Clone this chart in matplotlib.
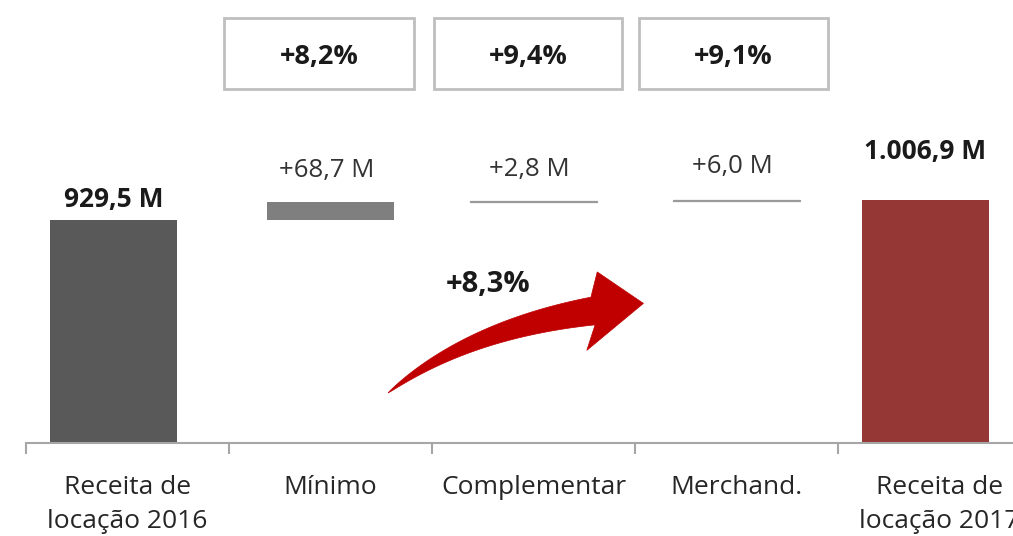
import numpy as np
import matplotlib
matplotlib.use("Agg")
import matplotlib.pyplot as plt
import matplotlib.patches as patches

plt.rcParams['font.family'] = ['Open Sans', 'DejaVu Sans']

# data
categories = ["Receita de\nlocação 2016", "Mínimo", "Complementar", "Merchand.", "Receita de\nlocação 2017"]
start_value = 929.5
increments = [68.7, 2.8, 6.0]
end_value = 1006.9
value_labels = ["929,5 M", "+68,7 M", "+2,8 M", "+6,0 M", "1.006,9 M"]
box_labels = ["+8,2%", "+9,4%", "+9,1%"]
total_growth = "+8,3%"

W, H = 1013, 536
fig = plt.figure(figsize=(W / 100, H / 100), dpi=100)

# axis line sits at y=443 px, first tick at x=26 px
ax = fig.add_axes([26 / W, 1 - 443 / H, 1 - 26 / W, 443 / H])
ax.set_xlim(-0.5, (W - 26) / 203 - 0.5)
ymin = 66
ax.set_ylim(ymin, ymin + 443 / (20 / 77.4))

# waterfall bottoms / heights
bottoms = [ymin]
heights = [start_value - ymin]
running = start_value
for inc in increments:
    bottoms.append(running)
    heights.append(inc)
    running += inc
bottoms.append(ymin)
heights.append(end_value - ymin)

colors = ["#595959", "#7f7f7f", "#9a9a9a", "#9a9a9a", "#953735"]
edge_w = [0, 0, 0.9, 0.9, 0]
xpos = [-0.07, 1, 2, 3, 3.93]
bw = 127 / 203

ax.bar(xpos, heights, bottom=bottoms, width=bw, color=colors,
       edgecolor=colors, linewidth=edge_w)

# value labels (offsets in points above bar top)
offsets = [5, 14, 14, 15, 25]
for i, (x, b, h, lab) in enumerate(zip(xpos, bottoms, heights, value_labels)):
    top = b + h
    if i in (0, 4):
        ax.annotate(lab, (x, top), xytext=(0, offsets[i]), textcoords="offset points",
                    ha="center", va="bottom", fontsize=19, fontweight="bold", color="#1a1a1a")
    else:
        ax.annotate(lab, (x - 0.02, top), xytext=(0, offsets[i]), textcoords="offset points",
                    ha="center", va="bottom", fontsize=18.5, color="#333333")

# axis styling
for s in ["top", "right", "left"]:
    ax.spines[s].set_visible(False)
ax.spines["bottom"].set_color("#a6a6a6")
ax.spines["bottom"].set_linewidth(1.5)
ax.set_yticks([])
ax.set_xticks(range(len(categories)))
ax.set_xticklabels(categories, fontsize=19, color="#262626", linespacing=1.5)
ax.tick_params(axis="x", which="major", length=0, pad=23)
ax.set_xticks(np.arange(-0.5, 4.0, 1.0), minor=True)
ax.tick_params(axis="x", which="minor", length=8, width=1.5, color="#a6a6a6")

# growth boxes on top
boxes = [(224, 414), (434, 622), (639, 828)]
for (x0, x1), lab in zip(boxes, box_labels):
    rect = patches.Rectangle((x0 / W, 1 - 89 / H), (x1 - x0) / W, 71 / H,
                             transform=fig.transFigure, fill=False,
                             edgecolor="#bfbfbf", linewidth=2)
    fig.patches.append(rect)
    fig.text((x0 + x1) / 2 / W, 1 - 57 / H, lab, ha="center", va="center",
             fontsize=19.5, fontweight="bold", color="#1a1a1a")

# curved red arrow, tapered tail (pixel coords, y down)
p0 = np.array([388.0, 393.0])
p1 = np.array([467.0, 330.0])
p2 = np.array([593.0, 311.0])
s = np.linspace(0, 1, 60)[:, None]
centre = (1 - s) ** 2 * p0 + 2 * (1 - s) * s * p1 + s ** 2 * p2
deriv = 2 * (1 - s) * (p1 - p0) + 2 * s * (p2 - p1)
tang = deriv / np.linalg.norm(deriv, axis=1, keepdims=True)
norm = np.column_stack([-tang[:, 1], tang[:, 0]])
half = 14.0 * s[:, 0] ** 0.8
upper = centre - norm * half[:, None]
lower = centre + norm * half[:, None]
t_end, n_end = tang[-1], norm[-1]
head_top = p2 - n_end * 38 + t_end * 10
head_bot = p2 + n_end * 38 - t_end * 12
tip = p2 + t_end * 51
poly = np.vstack([upper, head_top, tip, head_bot, lower[::-1]])
poly_fig = np.column_stack([poly[:, 0] / W, 1 - poly[:, 1] / H])
fig.patches.append(patches.Polygon(poly_fig, closed=True, transform=fig.transFigure,
                                   facecolor="#c00000", edgecolor="#c00000", linewidth=0.5))
fig.text(488 / W, 1 - 285 / H, total_growth, ha="center", va="center",
         fontsize=21, fontweight="bold", color="#1a1a1a")

fig.savefig("out.png", dpi=100)
